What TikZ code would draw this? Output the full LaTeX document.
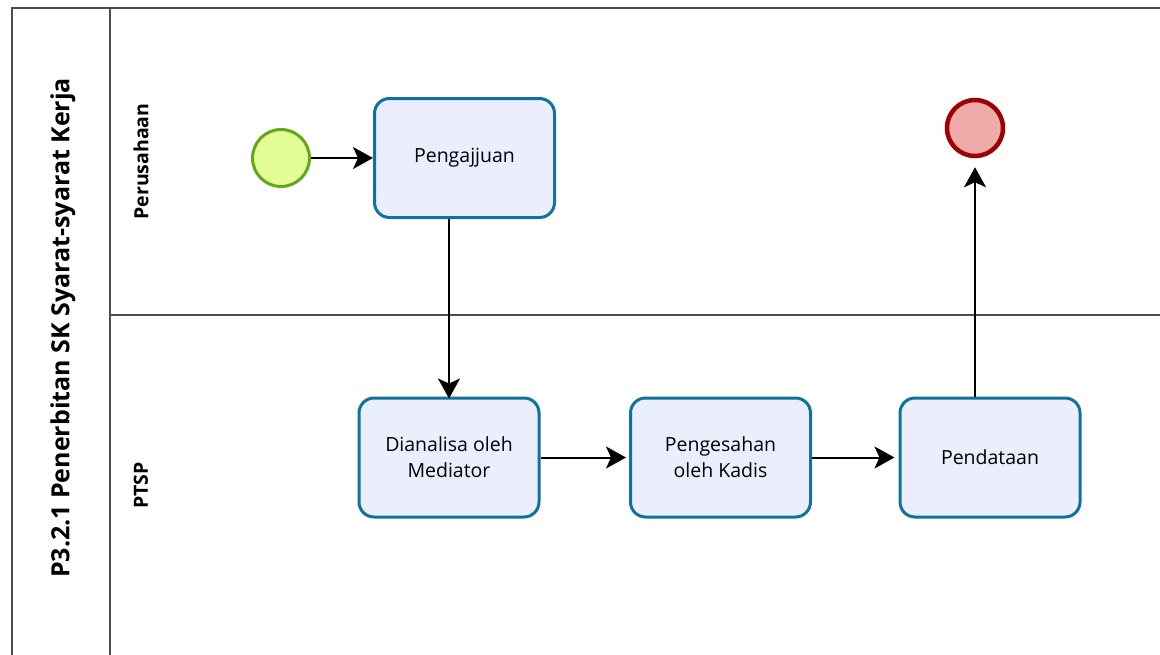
\documentclass[tikz,border=0pt]{standalone}
\usepackage{fontspec}
\setmainfont{Open Sans}
\usetikzlibrary{arrows.meta,calc}
\definecolor{taskfill}{HTML}{EBEEFC}
\definecolor{taskline}{HTML}{10739E}
\definecolor{startfill}{HTML}{E4FE95}
\definecolor{startline}{HTML}{62A81C}
\definecolor{endfill}{HTML}{EFAAAA}
\definecolor{endline}{HTML}{A00000}
\definecolor{poolline}{HTML}{4D4D4D}
\tikzset{
  task/.style={draw=taskline, fill=taskfill, line width=3pt, rounded corners=15pt,
    minimum width=180pt, minimum height=119pt, inner sep=0pt, align=center,
    font=\fontsize{19.5}{26}\selectfont, text=black},
  startev/.style={circle, draw=startline, fill=startfill, line width=3pt, minimum size=57pt, inner sep=0pt},
  endev/.style={circle, draw=endline, fill=endfill, line width=4.5pt, minimum size=56pt, inner sep=0pt},
  flow/.style={draw=black, line width=2pt, -{Stealth[length=20pt,width=22pt,inset=5pt]}},
  lanelabel/.style={rotate=90, font=\bfseries\fontsize{19.5}{22}\selectfont},
  poolborder/.style={draw=poolline, line width=2pt}
}
\begin{document}
\begin{tikzpicture}[x=1pt,y=-1pt]
\useasboundingbox (0,0) rectangle (1160,654);
\clip (0,0) rectangle (1160,654);
% pool
\draw[poolborder] (1170,8) -- (12,8) -- (12,670);
\draw[poolborder] (110,8) -- (110,670);
\draw[poolborder] (110,315) -- (1170,315);
\node[rotate=90, font=\bfseries\fontsize{25}{30}\selectfont] (pooltitle) at (63,328) {P3.2.1 Penerbitan SK Syarat-syarat Kerja};
\node[lanelabel] (lane1) at (141,161.5) {Perusahaan};
\node[lanelabel] (lane2) at (141,485.5) {PTSP};
% events and tasks
\node[startev] (start) at (281,158) {};
\node[task] (pengajjuan) at (464.5,158) {Pengajjuan};
\node[task] (dianalisa) at (449,457.5) {Dianalisa oleh\\Mediator};
\node[task] (pengesahan) at (720.5,457.5) {Pengesahan\\oleh Kadis};
\node[task] (pendataan) at (990,457.5) {Pendataan};
\node[endev] (end) at (975,128) {};
% flows
\draw[flow] (start) -- (pengajjuan);
\draw[flow] (dianalisa.north |- pengajjuan.south) -- ([yshift=-2pt]dianalisa.north);
\draw[flow, shorten >=3pt] (dianalisa) -- (pengesahan);
\draw[flow, shorten >=4pt] (pengesahan) -- (pendataan);
\draw[flow, shorten >=9pt] (end.south |- pendataan.north) -- (end.south);
\end{tikzpicture}
\end{document}
